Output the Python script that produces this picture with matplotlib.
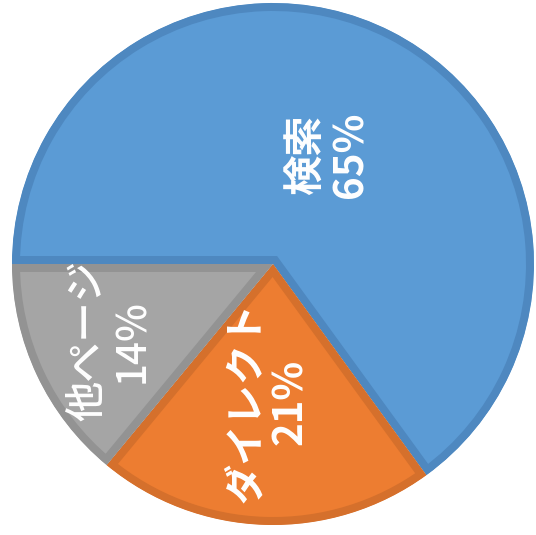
import numpy as np
import matplotlib
matplotlib.use('Agg')
import matplotlib.pyplot as plt

plt.rcParams['font.family'] = ['Noto Sans CJK JP', 'DejaVu Sans']

# データ
labels = ['検索', 'ダイレクト', '他ページ']
values = [65, 21, 14]
fill_colors = ['#5B9BD5', '#ED7D31', '#A5A5A5']
edge_colors = ['#4E88C0', '#D5702C', '#939393']
label_dist = [0.47, 0.53, 0.69]
label_weight = ['bold', 'bold', 'medium']

W, H = 536, 535
cx, cy, R = 273, H - 264, 261
border = 8  # px, 内側の枠線

fig = plt.figure(figsize=(W / 100, H / 100), dpi=100)
ax = fig.add_axes([0, 0, 1, 1])

wedges, _ = ax.pie(values, colors=fill_colors, startangle=180, counterclock=False,
                   radius=R, center=(cx, cy),
                   wedgeprops=dict(linewidth=2 * border * 72 / 100))
# 枠線を各扇形の内側だけに描く（pieはclip_on=Falseなので戻す）
for w, ec in zip(wedges, edge_colors):
    w.set_edgecolor(ec)
    w.set_clip_on(True)
    w.set_clip_path(w.get_path(), w.get_transform())

# ラベル（回転90度）
for w, lab, v, d, fw in zip(wedges, labels, values, label_dist, label_weight):
    mid = np.deg2rad((w.theta1 + w.theta2) / 2)
    x = cx + d * R * np.cos(mid)
    y = cy + d * R * np.sin(mid)
    ax.text(x, y, f'{lab}\n{v}%', rotation=90, ha='center', va='center',
            color='white', fontsize=29, fontweight=fw, linespacing=1.1,
            multialignment='center')

ax.set_xlim(0, W)
ax.set_ylim(0, H)
ax.set_aspect('equal')
ax.axis('off')
fig.savefig('out.png', dpi=100)
